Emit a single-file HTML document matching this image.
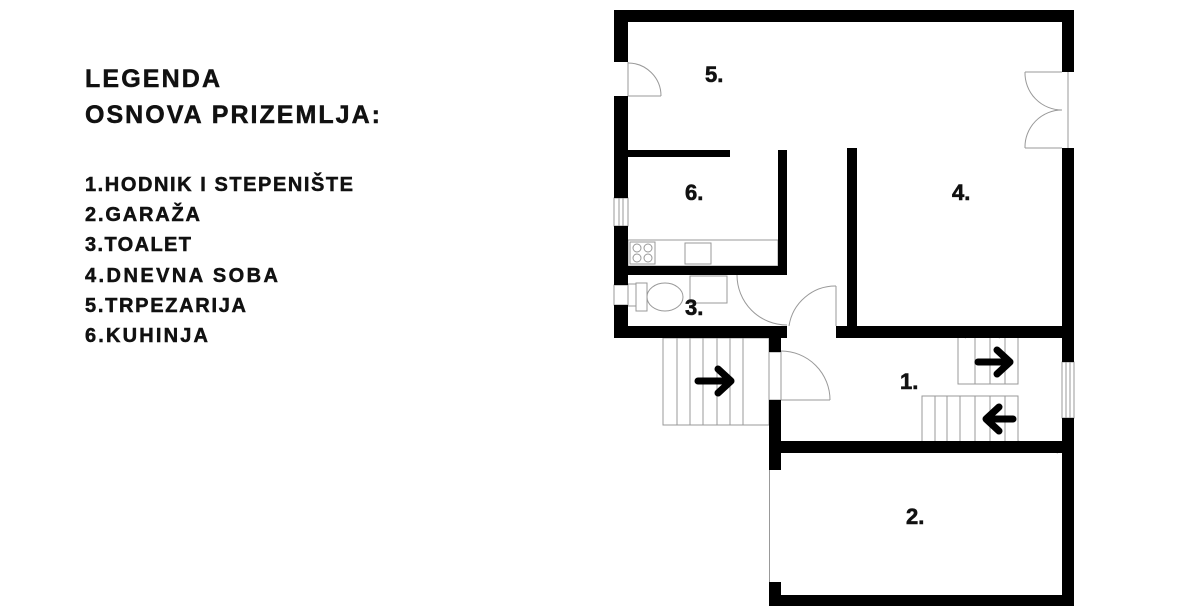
<!DOCTYPE html>
<html><head><meta charset="utf-8"><style>
html,body{margin:0;padding:0;background:#fff;}
svg{display:block;}
.t{font-family:"Liberation Sans",sans-serif;font-weight:bold;fill:#111;}
</style></head><body>
<svg width="1200" height="611" viewBox="0 0 1200 611" xmlns="http://www.w3.org/2000/svg">
<g class="t" stroke="#111" stroke-width="0.5">
<text x="85" y="87" font-size="25" textLength="135" lengthAdjust="spacing">LEGENDA</text>
<text x="85" y="123" font-size="25" textLength="295" lengthAdjust="spacing">OSNOVA PRIZEMLJA:</text>
<g font-size="20">
<text x="85" y="191" textLength="268" lengthAdjust="spacing">1.HODNIK I STEPENIŠTE</text>
<text x="85" y="221" textLength="115" lengthAdjust="spacing">2.GARAŽA</text>
<text x="85" y="251" textLength="106" lengthAdjust="spacing">3.TOALET</text>
<text x="85" y="282" textLength="193" lengthAdjust="spacing">4.DNEVNA SOBA</text>
<text x="85" y="312" textLength="161" lengthAdjust="spacing">5.TRPEZARIJA</text>
<text x="85" y="342" textLength="123" lengthAdjust="spacing">6.KUHINJA</text>
</g>
</g>
<g stroke="#999" stroke-width="1" fill="none">
<line x1="628" y1="62" x2="628" y2="96"/><line x1="628" y1="96" x2="661" y2="96"/>
<path d="M661 96 A33 33 0 0 0 628 63"/>
<line x1="1068" y1="72" x2="1068" y2="148"/>
<line x1="1025" y1="72" x2="1062" y2="72"/><path d="M1025 72 A37 37 0 0 0 1062 110"/>
<line x1="1025" y1="148" x2="1062" y2="148"/><path d="M1025 148 A37 37 0 0 1 1062 110"/>
<rect x="614" y="198" width="14" height="28"/><line x1="619" y1="198" x2="619" y2="226"/><line x1="623" y1="198" x2="623" y2="226"/>
<rect x="614" y="285" width="14" height="20"/>
<rect x="1062" y="362" width="12" height="56"/><line x1="1066" y1="362" x2="1066" y2="418"/><line x1="1070" y1="362" x2="1070" y2="418"/>
<rect x="628" y="240" width="150" height="26"/>
<rect x="630" y="242" width="25" height="22"/>
<circle cx="637" cy="248" r="4"/><circle cx="648" cy="248" r="4"/><circle cx="637" cy="258" r="4"/><circle cx="648" cy="258" r="4"/>
<rect x="685" y="243" width="26" height="21"/>
<rect x="690" y="276" width="37" height="27"/>
<rect x="628" y="284" width="8" height="22"/>
<rect x="636" y="283" width="11" height="28"/>
<ellipse cx="665" cy="297" rx="18" ry="14"/>
<path d="M737 275 A50 50 0 0 0 787 325"/>
<line x1="836" y1="286" x2="836" y2="326"/><path d="M789 326 A47 47 0 0 1 836 286"/>
<rect x="769" y="352" width="12" height="48"/>
<line x1="781" y1="400" x2="830" y2="400"/><path d="M830 400 A49 49 0 0 0 781 351"/>
<rect x="663" y="338" width="106" height="87"/>
<line x1="677" y1="338" x2="677" y2="425"/><line x1="690" y1="338" x2="690" y2="425"/><line x1="703" y1="338" x2="703" y2="425"/><line x1="717" y1="338" x2="717" y2="425"/><line x1="730" y1="338" x2="730" y2="425"/><line x1="743" y1="338" x2="743" y2="425"/>
<path d="M958 338 V384 H1018 V338"/>
<line x1="975" y1="338" x2="975" y2="384"/><line x1="990" y1="338" x2="990" y2="384"/><line x1="1005" y1="338" x2="1005" y2="384"/>
<path d="M922 441 V396 H1018 V441"/>
<line x1="935" y1="396" x2="935" y2="441"/><line x1="947" y1="396" x2="947" y2="441"/><line x1="960" y1="396" x2="960" y2="441"/><line x1="975" y1="396" x2="975" y2="441"/><line x1="990" y1="396" x2="990" y2="441"/><line x1="1005" y1="396" x2="1005" y2="441"/>
<path d="M940 328 L966 338 M972 328 L1000 338 M1010 328 V338 M1018 441 L1058 453"/>
<line x1="769.5" y1="470" x2="769.5" y2="582"/>
<line x1="1068" y1="484" x2="1068" y2="520"/>
</g>
<g fill="#000">
<rect x="614" y="10" width="460" height="12"/>
<rect x="614" y="10" width="14" height="52"/>
<rect x="614" y="96" width="14" height="102"/>
<rect x="614" y="226" width="14" height="59"/>
<rect x="614" y="305" width="14" height="33"/>
<rect x="614" y="326" width="173" height="12"/>
<rect x="836" y="326" width="238" height="12"/>
<rect x="1062" y="10" width="12" height="62"/>
<rect x="1062" y="148" width="12" height="214"/>
<rect x="1062" y="418" width="12" height="188"/>
<rect x="628" y="150" width="102" height="7"/>
<rect x="778" y="150" width="9" height="125"/>
<rect x="628" y="266" width="159" height="9"/>
<rect x="847" y="148" width="10" height="180"/>
<rect x="769" y="338" width="12" height="14"/>
<rect x="769" y="400" width="12" height="70"/>
<rect x="781" y="441" width="281" height="12"/>
<rect x="769" y="582" width="12" height="24"/>
<rect x="769" y="595" width="305" height="11"/>
</g>
<g stroke="#000" stroke-width="7" fill="none" stroke-linecap="round" stroke-linejoin="round">
<path d="M698 381 H730 M718 369 L731 381 L718 393"/>
<path d="M978 362 H1010 M997 350 L1010 362 L997 374"/>
<path d="M1013 419 H988 M999 407 L986 419 L999 431"/>
</g>
<g class="t" font-size="22" stroke="#111" stroke-width="0.6">
<text x="705" y="82">5.</text>
<text x="685" y="200">6.</text>
<text x="952" y="200">4.</text>
<text x="685" y="315">3.</text>
<text x="900" y="389">1.</text>
<text x="906" y="524">2.</text>
</g>
</svg>
</body></html>
